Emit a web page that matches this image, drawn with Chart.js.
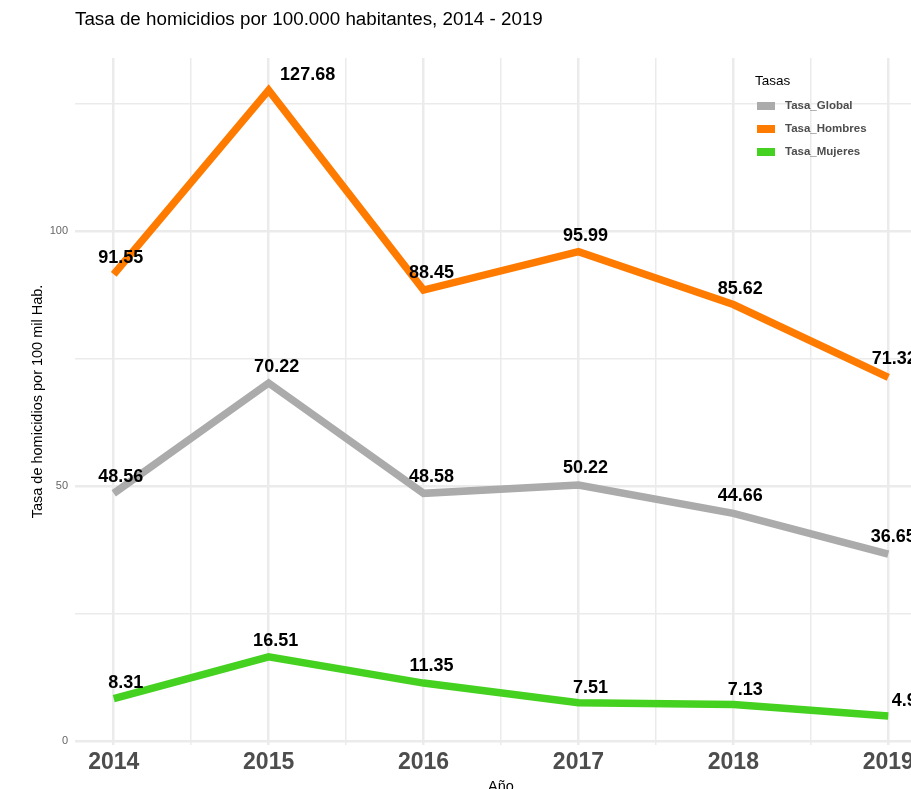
<!DOCTYPE html>
<html>
<head>
<meta charset="utf-8">
<script src="https://cdn.jsdelivr.net/npm/chart.js@4.4.1/dist/chart.umd.min.js"></script>
<style>
  html, body { margin: 0; padding: 0; background: #fff; overflow: hidden; }
  canvas { display: block; }
</style>
</head>
<body>
<canvas id="chart" width="930" height="800"></canvas>
<script>
const years = [2014, 2015, 2016, 2017, 2018, 2019];
const seriesNames = ['Tasa_Global', 'Tasa_Hombres', 'Tasa_Mujeres'];
const tasaGlobal = [48.56, 70.22, 48.58, 50.22, 44.66, 36.65];
const tasaHombres = [91.55, 127.68, 88.45, 95.99, 85.62, 71.32];
const tasaMujeres = [8.31, 16.51, 11.35, 7.51, 7.13, 4.91];
const yBreaks = [0, 25, 50, 75, 100, 125];
const yLabels = [0, 50, 100];

const seriesValues = [tasaGlobal, tasaHombres, tasaMujeres];
const colors = ['#ABABAB', '#FF7B00', '#45D11F'];
const FONT = '"Liberation Sans", Arial, sans-serif';

// pixel nudges for the value labels (they are not all placed the same way in the original)
const labelDx = [
  [7, 8, 8, 7, 7, 5],
  [7, 39, 8, 7, 7, 6],
  [12, 7, 8, 12, 12, 21]
];
const labelDy = [
  [-16, -16, -16, -17, -17, -17],
  [-16, -15, -17, -16, -16, -18],
  [-16, -16, -17, -15, -15, -15]
];

// vertical grid: every year plus the half years in between
const xBreaks = years.flatMap((y, i) => i < years.length - 1 ? [y, y + 0.5] : [y]);

const valueLabels = {
  id: 'valueLabels',
  afterDatasetsDraw(chart) {
    const ctx = chart.ctx;
    ctx.save();
    ctx.font = 'bold 18px ' + FONT;
    ctx.fillStyle = '#000';
    ctx.textAlign = 'center';
    ctx.textBaseline = 'middle';
    chart.data.datasets.forEach((ds, i) => {
      chart.getDatasetMeta(i).data.forEach((pt, j) => {
        ctx.fillText(String(ds.data[j].y), pt.x + labelDx[i][j], pt.y + labelDy[i][j]);
      });
    });
    ctx.restore();
  }
};

const legendBox = {
  id: 'legendBox',
  afterDraw(chart) {
    const ctx = chart.ctx;
    ctx.save();
    ctx.textBaseline = 'middle';
    ctx.textAlign = 'left';
    ctx.fillStyle = '#000';
    ctx.font = '13.5px ' + FONT;
    ctx.fillText('Tasas', 755, 81);
    ctx.font = 'bold 11.5px ' + FONT;
    seriesNames.forEach((name, i) => {
      const y = 106 + i * 23;
      ctx.fillStyle = colors[i];
      ctx.fillRect(757, y - 4, 18, 8);
      ctx.fillStyle = '#4D4D4D';
      ctx.fillText(name, 785, y);
    });
    ctx.restore();
  }
};

new Chart(document.getElementById('chart'), {
  type: 'line',
  data: {
    datasets: seriesNames.map((name, i) => ({
      label: name,
      data: years.map((yr, j) => ({ x: yr, y: seriesValues[i][j] })),
      borderColor: colors[i],
      backgroundColor: colors[i],
      borderWidth: 7.5,
      pointRadius: 0,
      borderJoinStyle: 'miter',
      borderCapStyle: 'butt',
      tension: 0,
      fill: false
    }))
  },
  options: {
    responsive: false,
    animation: false,
    layout: { padding: { left: 0, right: 3, top: 0, bottom: 0 } },
    plugins: {
      legend: { display: false },
      tooltip: { enabled: false },
      title: {
        display: true,
        text: 'Tasa de homicidios por 100.000 habitantes, 2014 - 2019',
        align: 'start',
        fullSize: false,
        color: '#000',
        font: { family: FONT, size: 18.8, weight: 'normal' },
        padding: { top: 9, bottom: 26.4 }
      }
    },
    scales: {
      x: {
        type: 'linear',
        min: 2013.75,
        max: 2019.25,
        afterBuildTicks: s => { s.ticks = xBreaks.map(v => ({ value: v })); },
        afterFit: s => { s.height = 55; },
        grid: {
          color: '#EBEBEB',
          lineWidth: c => Number.isInteger(c.tick.value) ? 2.5 : 1.5,
          drawTicks: false
        },
        border: { display: false },
        ticks: {
          padding: 4,
          autoSkip: false,
          maxRotation: 0,
          color: '#4D4D4D',
          font: { family: FONT, size: 23, weight: 'bold' },
          callback: v => Number.isInteger(v) ? String(v) : ''
        },
        title: {
          display: true,
          text: 'Año',
          color: '#000',
          font: { family: FONT, size: 14.5 },
          padding: { top: 0, bottom: 4 }
        }
      },
      y: {
        min: -0.8,
        max: 134,
        afterBuildTicks: s => { s.ticks = yBreaks.map(v => ({ value: v })); },
        afterFit: s => { s.width = 75; },
        grid: {
          color: '#EBEBEB',
          lineWidth: c => yLabels.includes(c.tick.value) ? 2.5 : 1.5,
          drawTicks: false
        },
        border: { display: false },
        ticks: {
          padding: 7,
          color: '#666',
          font: { family: FONT, size: 11 },
          callback: v => yLabels.includes(v) ? String(v) : ''
        },
        title: {
          display: true,
          text: 'Tasa de homicidios por 100 mil Hab.',
          color: '#000',
          font: { family: FONT, size: 14.5 },
          padding: { top: 29, bottom: 0 }
        }
      }
    }
  },
  plugins: [valueLabels, legendBox]
});
</script>
</body>
</html>
